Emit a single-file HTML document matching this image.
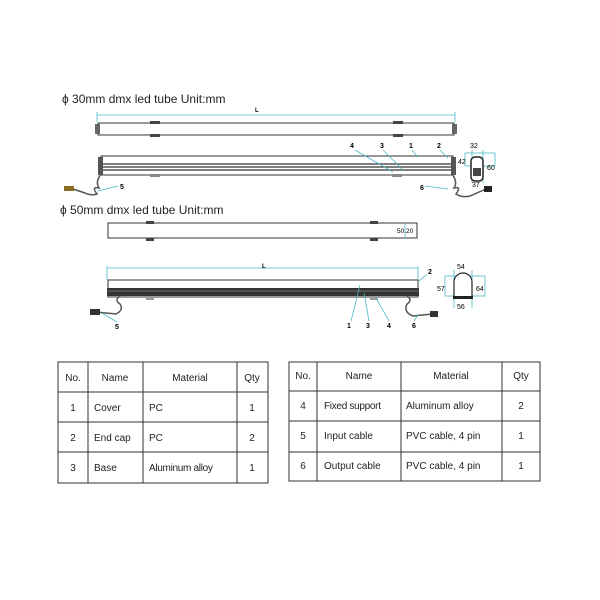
<!DOCTYPE html>
<html><head><style>body{margin:0;background:#fff}svg{display:block}</style></head><body>
<svg width="600" height="600" xmlns="http://www.w3.org/2000/svg" font-family="Liberation Sans, sans-serif">
<rect width="600" height="600" fill="#fff"/>
<text x="62" y="103" font-size="12" fill="#222">ϕ 30mm dmx led tube Unit:mm</text>
<!-- L dimension -->
<g stroke="#4bb8c8" stroke-width="0.8" fill="none">
<line x1="97" y1="115" x2="455" y2="115"/><line x1="97" y1="112" x2="97" y2="122"/><line x1="455" y1="112" x2="455" y2="122"/>
</g>
<text x="255" y="112" font-size="6" font-weight="bold">L</text>
<!-- tube 1 -->
<rect x="98" y="123" width="356" height="12" fill="#fff" stroke="#333" stroke-width="1"/>
<rect x="95" y="124" width="5" height="10" fill="#666"/><rect x="452" y="124" width="5" height="10" fill="#666"/>
<rect x="150" y="121" width="10" height="3" fill="#444"/><rect x="150" y="134" width="10" height="3" fill="#444"/>
<rect x="393" y="121" width="10" height="3" fill="#444"/><rect x="393" y="134" width="10" height="3" fill="#444"/>
<!-- tube 2 -->
<rect x="101" y="156" width="352" height="19" fill="#fff" stroke="#333"/>
<g stroke="#333" stroke-width="1.2"><line x1="101" y1="164" x2="453" y2="164"/><line x1="101" y1="167" x2="453" y2="167"/><line x1="101" y1="170" x2="453" y2="170"/></g>
<rect x="98" y="157" width="5" height="18" fill="#555"/><rect x="451" y="157" width="5" height="18" fill="#555"/>
<rect x="150" y="174" width="10" height="3" fill="#888"/><rect x="392" y="174" width="10" height="3" fill="#888"/>
<path d="M101 174 q-6 8 -2 14 q-8 -2 -2 6 q-6 2 -12 -1 L70 188" stroke="#555" fill="none" stroke-width="1.5"/>
<rect x="64" y="186" width="10" height="5" fill="#8a6a20"/>
<path d="M452 174 q6 8 2 14 q8 -2 2 6 q6 4 14 2 L486 189" stroke="#555" fill="none" stroke-width="1.5"/>
<rect x="484" y="186" width="8" height="6" fill="#222"/>
<g stroke="#4bb8c8" stroke-width="0.8" fill="none">
<line x1="118" y1="186" x2="98" y2="191"/><line x1="448" y1="189" x2="425" y2="186"/>
<line x1="355" y1="150" x2="393" y2="172"/><line x1="383" y1="150" x2="403" y2="170"/><line x1="412" y1="150" x2="418" y2="157"/><line x1="440" y1="150" x2="448" y2="158"/>
</g>
<g font-size="7" font-weight="bold"><text x="120" y="189">5</text><text x="420" y="190">6</text><text x="350" y="148">4</text><text x="380" y="148">3</text><text x="409" y="148">1</text><text x="437" y="148">2</text></g>
<!-- cross-section 30 -->
<g stroke="#4bb8c8" stroke-width="0.8" fill="none"><rect x="465" y="153" width="30" height="13"/><line x1="472" y1="150" x2="472" y2="183"/><line x1="483" y1="150" x2="483" y2="183"/></g>
<rect x="471" y="157" width="12" height="24" rx="4" fill="#fff" stroke="#222" stroke-width="1.5"/>
<rect x="473" y="168" width="8" height="8" fill="#444"/>
<g font-size="7"><text x="470" y="148">32</text><text x="458" y="164">42</text><text x="487" y="170">60</text><text x="472" y="187">37</text></g>
<!-- 50mm -->
<text x="60" y="214" font-size="12" fill="#222">ϕ 50mm dmx led tube Unit:mm</text>
<rect x="108" y="223" width="309" height="15" fill="#fff" stroke="#333"/>
<rect x="146" y="221" width="8" height="3" fill="#444"/><rect x="146" y="238" width="8" height="3" fill="#444"/>
<rect x="370" y="221" width="8" height="3" fill="#444"/><rect x="370" y="238" width="8" height="3" fill="#444"/>
<line x1="405" y1="223" x2="405" y2="238" stroke="#4bb8c8" stroke-width="0.8"/>
<text x="397" y="233" font-size="6.5">50.20</text>
<g stroke="#4bb8c8" stroke-width="0.8" fill="none"><line x1="107" y1="268" x2="418" y2="268"/><line x1="107" y1="266" x2="107" y2="280"/><line x1="418" y1="266" x2="418" y2="280"/></g>
<text x="262" y="268" font-size="6" font-weight="bold">L</text>
<rect x="108" y="280" width="310" height="17" fill="#fff" stroke="#333"/>
<rect x="107" y="288" width="312" height="8" fill="#333"/>
<line x1="107" y1="291" x2="419" y2="291" stroke="#888" stroke-width="0.8"/>
<rect x="146" y="296" width="8" height="4" fill="#999"/><rect x="370" y="296" width="8" height="4" fill="#999"/>
<path d="M120 296 q-6 4 0 8 q4 6 -4 10 L96 312" stroke="#555" fill="none" stroke-width="1.5"/>
<rect x="90" y="309" width="10" height="6" fill="#333"/>
<path d="M407 296 q6 4 0 8 q-4 8 6 12 L432 314" stroke="#555" fill="none" stroke-width="1.5"/>
<rect x="430" y="311" width="8" height="6" fill="#333"/>
<g stroke="#4bb8c8" stroke-width="0.8" fill="none">
<line x1="117" y1="322" x2="102" y2="313"/><line x1="414" y1="321" x2="418" y2="315"/>
<line x1="351" y1="321" x2="360" y2="285"/><line x1="369" y1="321" x2="364" y2="293"/><line x1="389" y1="321" x2="376" y2="298"/><line x1="427" y1="274" x2="418" y2="282"/>
</g>
<g font-size="7" font-weight="bold"><text x="115" y="329">5</text><text x="412" y="328">6</text><text x="347" y="328">1</text><text x="366" y="328">3</text><text x="387" y="328">4</text><text x="428" y="274">2</text></g>
<!-- cross-section 50 -->
<g stroke="#4bb8c8" stroke-width="0.8" fill="none"><rect x="445" y="276" width="40" height="20"/><line x1="454" y1="270" x2="454" y2="308"/><line x1="472" y1="270" x2="472" y2="308"/></g>
<path d="M454 298 V282 a9 9 0 0 1 18 0 V298 Z" fill="#fff" stroke="#222" stroke-width="1.2"/>
<rect x="453" y="296" width="20" height="3" fill="#222"/>
<g font-size="7"><text x="457" y="269">54</text><text x="437" y="291">57</text><text x="476" y="291">64</text><text x="457" y="309">56</text></g>
<!-- tables -->
<g stroke="#333" stroke-width="1" fill="none">
<rect x="58" y="362" width="210" height="121"/>
<line x1="88" y1="362" x2="88" y2="483"/><line x1="143" y1="362" x2="143" y2="483"/><line x1="237" y1="362" x2="237" y2="483"/>
<line x1="58" y1="392" x2="268" y2="392"/><line x1="58" y1="422" x2="268" y2="422"/><line x1="58" y1="452" x2="268" y2="452"/>
<rect x="289" y="362" width="251" height="119"/>
<line x1="317" y1="362" x2="317" y2="481"/><line x1="401" y1="362" x2="401" y2="481"/><line x1="502" y1="362" x2="502" y2="481"/>
<line x1="289" y1="391" x2="540" y2="391"/><line x1="289" y1="421" x2="540" y2="421"/><line x1="289" y1="452" x2="540" y2="452"/>
</g>
<g font-size="10" fill="#222">
<g text-anchor="middle"><text x="73" y="381">No.</text><text x="115" y="381">Name</text><text x="190" y="381">Material</text><text x="252" y="381">Qty</text>
<text x="73" y="411">1</text><text x="73" y="441">2</text><text x="73" y="471">3</text>
<text x="252" y="411">1</text><text x="252" y="441">2</text><text x="252" y="471">1</text>
<text x="303" y="379">No.</text><text x="359" y="379">Name</text><text x="451" y="379">Material</text><text x="521" y="379">Qty</text>
<text x="303" y="409">4</text><text x="303" y="439">5</text><text x="303" y="469">6</text>
<text x="521" y="409">2</text><text x="521" y="439">1</text><text x="521" y="469">1</text></g>
<text x="94" y="411">Cover</text><text x="94" y="441">End cap</text><text x="94" y="471">Base</text>
<text x="149" y="411">PC</text><text x="149" y="441">PC</text><text x="149" y="471" letter-spacing="-0.3">Aluminum alloy</text>
<text x="324" y="409" letter-spacing="-0.3">Fixed support</text><text x="324" y="439">Input cable</text><text x="324" y="469">Output cable</text>
<text x="406" y="409">Aluminum alloy</text><text x="406" y="439">PVC cable, 4 pin</text><text x="406" y="469">PVC cable, 4 pin</text>
</g>
</svg>
</body></html>
